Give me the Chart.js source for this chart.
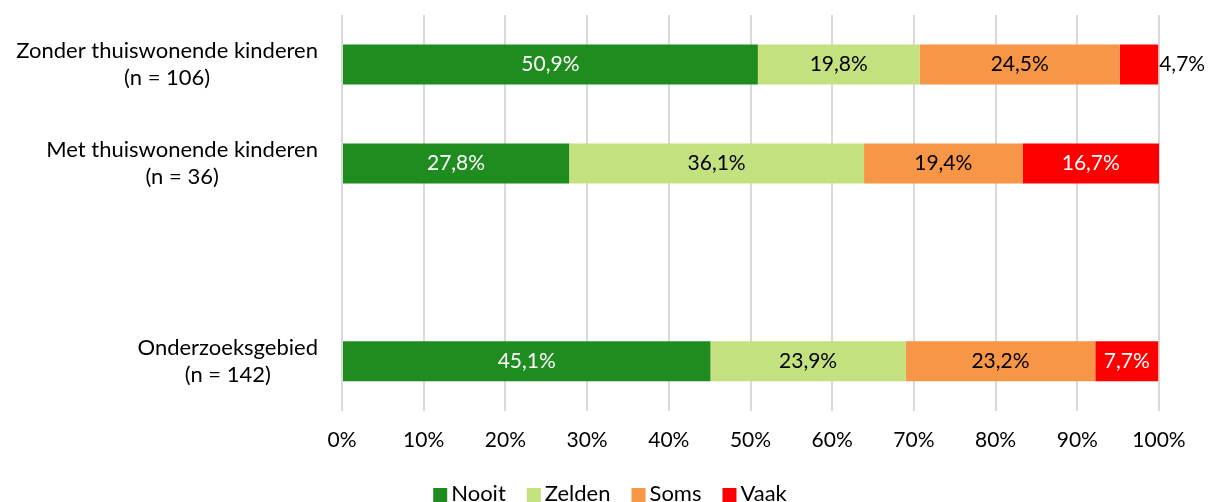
<!DOCTYPE html>
<html>
<head>
<meta charset="utf-8">
<script src="https://cdn.jsdelivr.net/npm/chart.js@4/dist/chart.umd.min.js"></script>
<style>
  html, body { margin: 0; padding: 0; background: #fff; }
  #wrap { width: 1208px; height: 502px; }
</style>
</head>
<body>
<div id="wrap"><canvas id="c" width="1208" height="502"></canvas></div>
<script>
// Groups (an empty slot separates the subgroups from the total)
const categories = [
  ['Zonder thuiswonende kinderen', '(n = 106)'],
  ['Met thuiswonende kinderen', '(n = 36)'],
  '',
  ['Onderzoeksgebied', '(n = 142)']
];
const seriesNames = ['Nooit', 'Zelden', 'Soms', 'Vaak'];
const nooit  = [50.9, 27.8, null, 45.1];
const zelden = [19.8, 36.1, null, 23.9];
const soms   = [24.5, 19.4, null, 23.2];
const vaak   = [4.7, 16.7, null, 7.7];
const xTicks = [0, 10, 20, 30, 40, 50, 60, 70, 80, 90, 100];

const colors = ['#1E8C1E', '#C3E17E', '#F79646', '#FF0000'];
const labelColors = ['#ffffff', '#000000', '#000000', '#ffffff'];
const FONT = 'Lato, "Open Sans", sans-serif';

const fmt = v => v.toFixed(1).replace('.', ',') + '%';

// Writes each segment's value inside the bar; segments too narrow get it past the bar end
const valueLabels = {
  id: 'valueLabels',
  afterDatasetsDraw(chart) {
    const ctx = chart.ctx;
    ctx.save();
    ctx.font = '21px ' + FONT;
    ctx.textBaseline = 'middle';
    chart.data.datasets.forEach((ds, di) => {
      const meta = chart.getDatasetMeta(di);
      meta.data.forEach((bar, i) => {
        const v = ds.data[i];
        if (v == null) return;
        const txt = fmt(v);
        const w = Math.abs(bar.x - bar.base);
        const tw = ctx.measureText(txt).width;
        if (tw + 4 > w) {
          ctx.fillStyle = '#000';
          ctx.textAlign = 'left';
          ctx.fillText(txt, bar.x + 1, bar.y);
        } else {
          ctx.fillStyle = labelColors[di];
          ctx.textAlign = 'center';
          ctx.fillText(txt, (bar.x + bar.base) / 2, bar.y);
        }
      });
    });
    ctx.restore();
  }
};

// Category labels: each block is right-aligned to the axis, its lines centred within the block
const categoryLabels = {
  id: 'categoryLabels',
  afterDraw(chart) {
    const ctx = chart.ctx;
    const y = chart.scales.y;
    const lineH = 27;
    const rightEdge = chart.chartArea.left - 24;
    ctx.save();
    ctx.font = '22px ' + FONT;
    ctx.fillStyle = '#000';
    ctx.textAlign = 'center';
    ctx.textBaseline = 'middle';
    chart.data.labels.forEach((lab, i) => {
      const lines = Array.isArray(lab) ? lab : [lab];
      if (!lines.join('')) return;
      const blockW = Math.max(...lines.map(l => ctx.measureText(l).width));
      const cx = rightEdge - blockW / 2;
      const cy = y.getPixelForValue(i);
      const top = cy - (lines.length - 1) * lineH / 2;
      lines.forEach((l, k) => ctx.fillText(l, cx, top + k * lineH));
    });
    ctx.restore();
  }
};

// Legend row under the axis: square swatch followed by series name
const bottomLegend = {
  id: 'bottomLegend',
  afterDraw(chart) {
    const ctx = chart.ctx;
    const box = 14, gap = 4, spacing = 21;
    ctx.save();
    ctx.font = '22px ' + FONT;
    ctx.textBaseline = 'middle';
    ctx.textAlign = 'left';
    const items = chart.data.datasets.map(ds => ({
      text: ds.label, color: ds.backgroundColor, w: ctx.measureText(ds.label).width
    }));
    const total = items.reduce((s, it) => s + box + gap + it.w, 0) + spacing * (items.length - 1);
    let x = chart.width / 2 + 6 - total / 2;
    const cy = 494;
    items.forEach(it => {
      ctx.fillStyle = it.color;
      ctx.fillRect(x, cy - 6, box, box);
      ctx.fillStyle = '#000';
      ctx.fillText(it.text, x + box + gap, cy);
      x += box + gap + it.w + spacing;
    });
    ctx.restore();
  }
};

const seriesData = [nooit, zelden, soms, vaak];

new Chart(document.getElementById('c'), {
  type: 'bar',
  data: {
    labels: categories,
    datasets: seriesNames.map((name, k) => ({
      label: name,
      data: seriesData[k],
      backgroundColor: colors[k],
      borderWidth: 0,
      categoryPercentage: 1,
      barPercentage: 0.405
    }))
  },
  options: {
    indexAxis: 'y',
    responsive: false,
    animation: false,
    layout: { padding: { top: 15, right: 49, left: 0, bottom: 32 } },
    scales: {
      x: {
        stacked: true,
        min: 0,
        max: 100,
        afterBuildTicks(axis) { axis.ticks = xTicks.map(v => ({ value: v })); },
        grid: { color: '#D9D9D9', lineWidth: 2, drawTicks: false },
        border: { display: false },
        ticks: {
          padding: 17,
          color: '#000',
          font: { family: FONT, size: 21 },
          callback: v => v + '%'
        }
      },
      y: {
        stacked: true,
        grid: { display: false, drawTicks: false },
        border: { display: false },
        ticks: { display: false },
        afterFit(axis) {
          axis.width = 342;
          axis.paddingTop = 0;
          axis.paddingBottom = 0;
        }
      }
    },
    plugins: {
      legend: { display: false },
      tooltip: { enabled: false }
    }
  },
  plugins: [valueLabels, categoryLabels, bottomLegend]
});
</script>
</body>
</html>
